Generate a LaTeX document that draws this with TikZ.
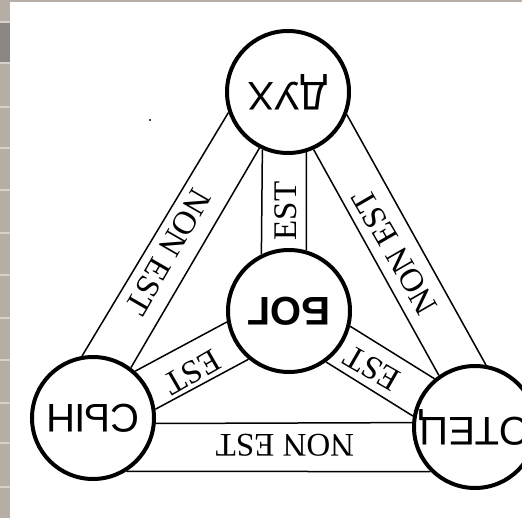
\documentclass[tikz,border=0pt]{standalone}
\usepackage{fontspec}
\usepackage{graphicx}
\setmainfont{Liberation Serif}
\newfontfamily\namefont{Liberation Sans}
\definecolor{strip}{RGB}{182,174,165}
\definecolor{stripline}{RGB}{214,209,203}
\definecolor{stripdark}{RGB}{140,135,130}
\begin{document}
\begin{tikzpicture}[x=1pt,y=-1pt,
    member/.style={circle,draw,line width=4pt,minimum size=122pt,inner sep=0pt,fill=white,
      font=\namefont\fontsize{40}{40}\selectfont},
    band/.style={line width=1.5pt},
    motto/.style={font=\fontsize{33}{33}\selectfont,inner sep=0pt}]
  \useasboundingbox (0,0) rectangle (522,518);
  \clip (0,0) rectangle (522,518);
  \fill[white] (0,0) rectangle (522,518);
  \fill[strip] (0,0) rectangle (10,518);
  \fill[stripdark] (0,22) rectangle (10,62);
  \foreach \y in {22,63,107,148,190,233,275,318,360,403,443,487}
    \draw[stripline,line width=1.5pt] (0,\y) -- (10,\y);
  \draw[strip,line width=2pt] (0,1) -- (522,1);

  \node[member] (dux) at (288,92) {\rotatebox{180}{ДУХ}};
  \node[member,font=\namefont\bfseries\fontsize{40}{40}\selectfont] (bog) at (289,311) {\rotatebox{180}{БОГ}};
  \node[member] (syn) at (93,418) {\rotatebox{180}{СЫН}};
  \node[member] (otec) at (475,427) {\rotatebox{180}{ОТЕЦ}};

  \draw[band] (dux.199) -- (syn.100);
  \draw[band] (dux.243) -- (syn.53);
  \draw[band] (dux.339) -- (otec.80);
  \draw[band] (dux.294) -- (otec.125);
  \draw[band] (syn.355) -- (otec.176);
  \draw[band] (syn.302) -- (otec.225);
  \draw[band] (dux.246) -- (bog.116);
  \draw[band] (dux.287) -- (bog.74);
  \draw[band] (syn.48) -- (bog.190);
  \draw[band] (syn.8) -- (bog.230);
  \draw[band] (bog.346) -- (otec.130);
  \draw[band] (bog.306) -- (otec.170);

  \node[motto,rotate=90] (est-dux) at (286,211) {EST};
  \node[motto,rotate=210] (est-syn) at (192,372) {EST};
  \node[motto,rotate=150] (est-otec) at (372,368) {EST};
  \node[motto,rotate=240] (non-left) at (168,252) {NON EST};
  \node[motto,rotate=120] (non-right) at (395,252) {NON EST};
  \node[motto,rotate=180] (non-bottom) at (285,445) {NON EST};

  \fill (150,120) circle (1.2pt);
\end{tikzpicture}
\end{document}
